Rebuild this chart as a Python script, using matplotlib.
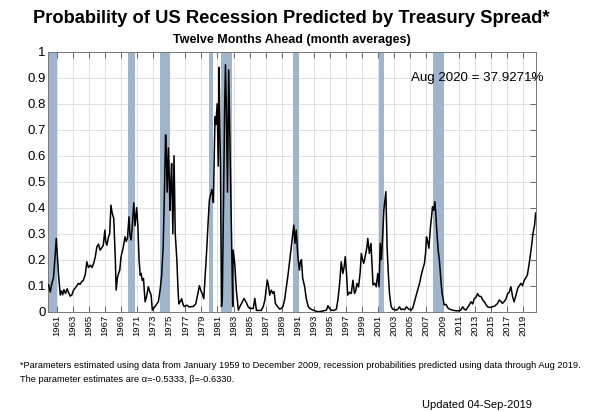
import matplotlib
matplotlib.use("Agg")
import matplotlib.pyplot as plt

plt.rcParams["font.family"] = ["Liberation Sans", "DejaVu Sans"]

# Tahmini olasılık serisi (ondalık yıl)
years = [
    1960.0, 1960.2, 1960.4, 1960.6, 1960.8, 1960.95, 1961.1, 1961.25, 1961.45, 1961.6,
    1961.75, 1961.9, 1962.1, 1962.3, 1962.5, 1962.7, 1962.9, 1963.1, 1963.4, 1963.7,
    1963.9, 1964.1, 1964.3, 1964.55, 1964.75, 1964.95, 1965.2, 1965.4, 1965.6, 1965.8,
    1966.0, 1966.2, 1966.4, 1966.6, 1966.8, 1967.0, 1967.1, 1967.25, 1967.45, 1967.6,
    1967.75, 1967.9, 1968.1, 1968.3, 1968.4, 1968.55, 1968.7, 1968.85, 1969.0, 1969.15,
    1969.3, 1969.5, 1969.65, 1969.8, 1970.0, 1970.1, 1970.25, 1970.4, 1970.6, 1970.75,
    1970.85, 1970.95, 1971.1, 1971.25, 1971.4, 1971.5, 1971.65, 1971.8, 1972.0, 1972.2,
    1972.4, 1972.55, 1972.75, 1972.9, 1973.2, 1973.45, 1973.65, 1973.85, 1974.05, 1974.25,
    1974.4, 1974.55, 1974.65, 1974.75, 1974.9, 1975.0, 1975.1, 1975.2, 1975.3, 1975.45,
    1975.6, 1975.75, 1975.95, 1976.1, 1976.2, 1976.4, 1976.55, 1976.7, 1976.85, 1977.2,
    1977.5, 1977.8, 1978.0, 1978.3, 1978.5, 1978.75, 1978.95, 1979.1, 1979.3, 1979.5,
    1979.65, 1979.85, 1980.0, 1980.15, 1980.3, 1980.4, 1980.5, 1980.6, 1980.7, 1980.8,
    1980.97, 1981.1, 1981.2, 1981.3, 1981.38, 1981.5, 1981.6, 1981.75, 1981.9, 1982.0,
    1982.1, 1982.25, 1982.4, 1982.55, 1982.7, 1982.9, 1982.95, 1983.15, 1983.35, 1983.6,
    1983.8, 1984.0, 1984.3, 1984.6, 1984.8, 1985.0, 1985.45, 1985.65, 1985.85, 1986.1,
    1986.45, 1986.7, 1986.9, 1987.2, 1987.35, 1987.5, 1987.7, 1987.9, 1988.05, 1988.2,
    1988.5, 1988.75, 1988.95, 1989.15, 1989.35, 1989.55, 1989.8, 1990.0, 1990.2, 1990.35,
    1990.5, 1990.65, 1990.8, 1991.0, 1991.2, 1991.3, 1991.45, 1991.6, 1991.85, 1992.05,
    1992.3, 1992.6, 1992.9, 1993.5, 1994.0, 1994.55, 1994.75, 1994.95, 1995.15, 1995.5,
    1995.8, 1996.0, 1996.2, 1996.4, 1996.6, 1996.75, 1996.9, 1997.05, 1997.2, 1997.45,
    1997.65, 1997.85, 1998.05, 1998.2, 1998.35, 1998.55, 1998.75, 1998.9, 1999.05, 1999.2,
    1999.45, 1999.6, 1999.7, 1999.9, 2000.1, 2000.35, 2000.55, 2000.75, 2000.95, 2001.1,
    2001.25, 2001.4, 2001.55, 2001.7, 2001.95, 2002.1, 2002.25, 2002.4, 2002.6, 2002.8,
    2003.25, 2003.45, 2003.65, 2003.85, 2004.05, 2004.3, 2004.5, 2004.8, 2005.1, 2005.3,
    2005.5, 2005.7, 2005.9, 2006.15, 2006.35, 2006.55, 2006.75, 2006.9, 2007.0, 2007.15,
    2007.3, 2007.5, 2007.65, 2007.75, 2007.9, 2008.05, 2008.15, 2008.25, 2008.45, 2008.6,
    2008.7, 2008.85, 2008.95, 2009.2, 2009.45, 2009.65, 2009.85, 2010.25, 2010.6, 2011.1,
    2011.3, 2011.5, 2011.7, 2011.9, 2012.2, 2012.55, 2012.75, 2012.95, 2013.15, 2013.35,
    2013.55, 2013.8, 2014.0, 2014.2, 2014.4, 2014.6, 2014.9, 2015.2, 2015.5, 2015.85,
    2016.05, 2016.25, 2016.45, 2016.7, 2016.9, 2017.1, 2017.3, 2017.5, 2017.7, 2017.9,
    2018.1, 2018.35, 2018.55, 2018.75, 2018.95, 2019.15, 2019.35, 2019.55, 2019.75, 2019.9,
    2020.1, 2020.25, 2020.45, 2020.58,
]
probs = [
    0.103, 0.076, 0.109, 0.13, 0.21, 0.282, 0.21, 0.135, 0.064, 0.08,
    0.065, 0.085, 0.07, 0.088, 0.072, 0.06, 0.065, 0.083, 0.095, 0.109,
    0.105, 0.115, 0.12, 0.141, 0.192, 0.17, 0.179, 0.17, 0.186, 0.21,
    0.25, 0.26, 0.237, 0.245, 0.256, 0.314, 0.27, 0.256, 0.288, 0.30,
    0.41, 0.38, 0.359, 0.20, 0.083, 0.13, 0.147, 0.16, 0.21, 0.23,
    0.25, 0.288, 0.27, 0.282, 0.365, 0.30, 0.276, 0.327, 0.419, 0.33,
    0.365, 0.40, 0.33, 0.20, 0.14, 0.147, 0.12, 0.128, 0.038, 0.06,
    0.096, 0.08, 0.064, 0.006, 0.019, 0.03, 0.038, 0.08, 0.135, 0.25,
    0.45, 0.68, 0.60, 0.46, 0.63, 0.52, 0.39, 0.50, 0.57, 0.30,
    0.60, 0.30, 0.20, 0.08, 0.03, 0.04, 0.05, 0.03, 0.02, 0.025,
    0.018, 0.02, 0.02, 0.03, 0.06, 0.10, 0.08, 0.07, 0.05, 0.15,
    0.23, 0.35, 0.43, 0.45, 0.47, 0.45, 0.42, 0.60, 0.75, 0.72,
    0.80, 0.56, 0.94, 0.70, 0.55, 0.02, 0.05, 0.40, 0.80, 0.95,
    0.80, 0.46, 0.93, 0.65, 0.35, 0.02, 0.237, 0.186, 0.083, 0.006,
    0.02, 0.032, 0.051, 0.035, 0.02, 0.013, 0.012, 0.051, 0.005, 0.005,
    0.005, 0.02, 0.045, 0.122, 0.10, 0.064, 0.083, 0.07, 0.077, 0.032,
    0.019, 0.01, 0.013, 0.02, 0.045, 0.09, 0.147, 0.20, 0.25, 0.29,
    0.333, 0.263, 0.314, 0.212, 0.16, 0.19, 0.20, 0.13, 0.096, 0.05,
    0.019, 0.01, 0.006, 0.0, 0.002, 0.006, 0.023, 0.012, 0.006, 0.005,
    0.01, 0.05, 0.109, 0.192, 0.147, 0.17, 0.212, 0.15, 0.064, 0.075,
    0.07, 0.121, 0.07, 0.08, 0.109, 0.095, 0.15, 0.224, 0.20, 0.186,
    0.224, 0.25, 0.282, 0.224, 0.263, 0.103, 0.11, 0.096, 0.147, 0.096,
    0.263, 0.20, 0.30, 0.391, 0.462, 0.25, 0.15, 0.07, 0.02, 0.01,
    0.006, 0.01, 0.019, 0.008, 0.01, 0.008, 0.019, 0.01, 0.006, 0.015,
    0.038, 0.06, 0.083, 0.11, 0.141, 0.165, 0.186, 0.23, 0.288, 0.27,
    0.244, 0.327, 0.37, 0.404, 0.39, 0.423, 0.38, 0.327, 0.237, 0.20,
    0.16, 0.10, 0.07, 0.026, 0.028, 0.015, 0.01, 0.006, 0.004, 0.003,
    0.008, 0.019, 0.01, 0.006, 0.02, 0.038, 0.03, 0.051, 0.055, 0.07,
    0.06, 0.058, 0.045, 0.038, 0.028, 0.019, 0.016, 0.019, 0.022, 0.032,
    0.045, 0.04, 0.032, 0.04, 0.05, 0.07, 0.075, 0.096, 0.06, 0.038,
    0.06, 0.09, 0.10, 0.109, 0.10, 0.12, 0.13, 0.141, 0.18, 0.212,
    0.26, 0.301, 0.333, 0.379,
]

# Resesyon dönemleri (başlangıç, bitiş)
rec_start = [1960.0, 1969.85, 1973.8, 1979.95, 1981.45, 1990.45, 2001.05, 2007.85]
rec_end = [1961.05, 1970.8, 1975.05, 1980.45, 1982.8, 1991.1, 2001.75, 2009.15]

tick_years = list(range(1961, 2020, 2))
y_ticks = [0, 0.1, 0.2, 0.3, 0.4, 0.5, 0.6, 0.7, 0.8, 0.9, 1]
y_labels = ["0", "0.1", "0.2", "0.3", "0.4", "0.5", "0.6", "0.7", "0.8", "0.9", "1"]

fig = plt.figure(figsize=(6, 4.12), dpi=100)
ax = fig.add_axes([0.0805, 0.2434, 0.8125, 0.6311])

for s, e in zip(rec_start, rec_end):
    ax.axvspan(s, e, color="#9fb4cd", lw=0, zorder=1)

ax.plot(years, probs, color="black", lw=1.1, zorder=3)

ax.set_xlim(1959.96, 2020.6)
ax.set_ylim(0, 1)
ax.set_xticks(tick_years)
ax.set_xticklabels([str(y) for y in tick_years], rotation=90, fontsize=6.8)
ax.set_yticks(y_ticks)
ax.set_yticklabels(y_labels, fontsize=9.5)
ax.grid(True, color="#dcdcdc", lw=0.6, zorder=0)
ax.set_axisbelow(True)
ax.tick_params(direction="in", top=True, right=True, length=4, width=0.6, pad=2,
               color="#555555")
for sp in ax.spines.values():
    sp.set_color("#777777")
    sp.set_linewidth(0.7)

ax.text(1.015, 0.899, "Aug 2020 = 37.9271%", transform=ax.transAxes,
        ha="right", va="center", fontsize=9.6, zorder=4, clip_on=False)

fig.text(0.485, 0.955, "Probability of US Recession Predicted by Treasury Spread*",
         ha="center", va="center", fontsize=13.2, fontweight="bold")
fig.text(0.487, 0.903, "Twelve Months Ahead (month averages)",
         ha="center", va="center", fontsize=9, fontweight="bold")

fig.text(0.033, 0.112, "*Parameters estimated using data from January 1959 to December 2009, "
         "recession probabilities predicted using data through Aug 2019.",
         ha="left", va="center", fontsize=6.65)
fig.text(0.033, 0.078, "The parameter estimates are \u03b1=-0.5333, \u03b2=-0.6330.",
         ha="left", va="center", fontsize=6.65)
fig.text(0.887, 0.018, "Updated 04-Sep-2019", ha="right", va="center", fontsize=8)

fig.savefig("out.png", dpi=100)
